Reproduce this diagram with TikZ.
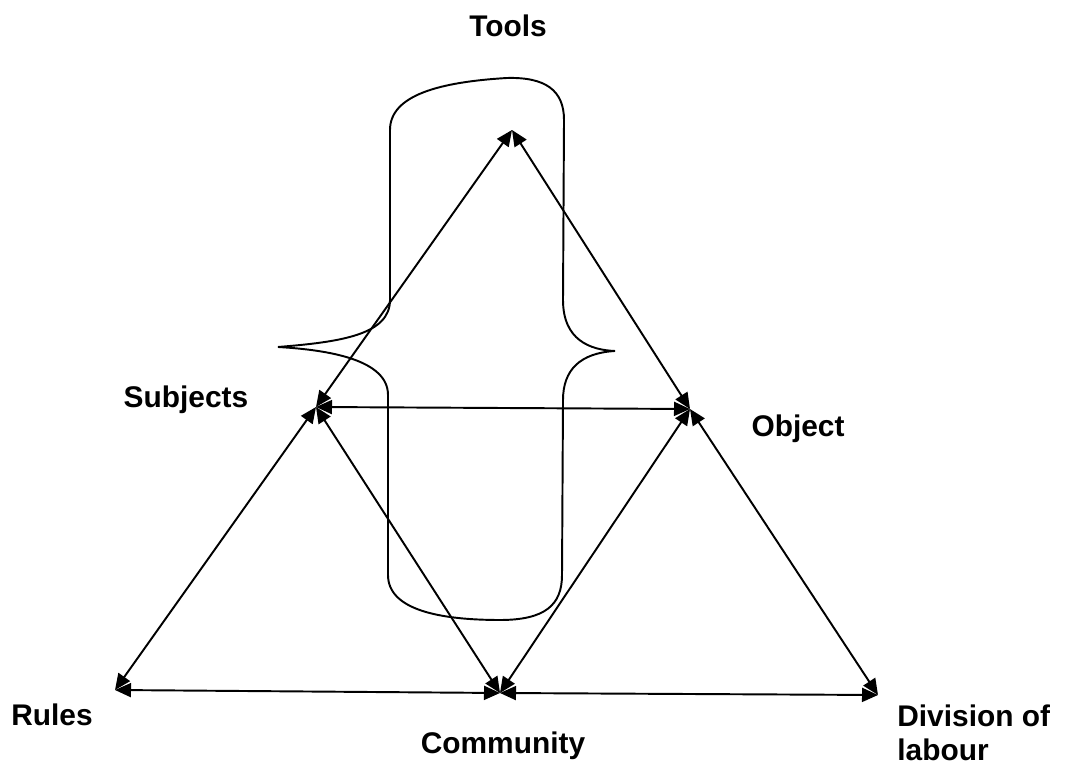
\documentclass[tikz,border=0pt]{standalone}
\usepackage{fontspec}
\setmainfont{Liberation Sans}
\usetikzlibrary{arrows.meta}

\begin{document}
\begin{tikzpicture}[
          vertex/.style={coordinate},
          cornertext/.style={font=\bfseries\fontsize{17}{19.9}\selectfont, inner sep=0pt},
          link/.style={{Triangle[length=0.32cm,width=0.28cm]}-{Triangle[length=0.32cm,width=0.28cm]}, line width=1.1pt},
          toolbrace/.style={line width=1.1pt}]

        \useasboundingbox (0,0) rectangle (21.34,15.36);

        \node[vertex] (tools)    at (10.24,12.76) {};
        \node[vertex] (subjects) at (6.32,7.22)   {};
        \node[vertex] (object)   at (13.80,7.18)  {};
        \node[vertex] (rules)    at (2.30,1.56)   {};
        \node[vertex] (comm)     at (10.00,1.50)  {};
        \node[vertex] (division) at (17.56,1.46)  {};

        \node[cornertext, anchor=base] (toolstext)    at (10.16,14.62) {Tools};
        \node[cornertext, anchor=base] (subjectstext) at (3.72,7.20)   {Subjects};
        \node[cornertext, anchor=base] (objecttext)   at (15.96,6.62)  {Object};
        \node[cornertext, anchor=base] (rulestext)    at (1.04,0.86)   {Rules};
        \node[cornertext, anchor=base] (commtext)     at (10.06,0.30)  {Community};
        \node[cornertext, anchor=north west, align=left] (divisiontext) at (17.94,1.28) {Division of\\labour};

        \draw[toolbrace] (7.80,9.36) -- (7.80,12.76)
              .. controls (7.80,13.46) and (8.80,13.72) .. (10.14,13.80)
              .. controls (10.90,13.82) and (11.28,13.56) .. (11.28,12.96)
              -- (11.26,9.36)
              .. controls (11.26,8.56) and (11.80,8.36) .. (12.30,8.34)
              .. controls (11.60,8.30) and (11.26,7.96) .. (11.26,7.36)
              -- (11.24,3.86)
              .. controls (11.24,3.26) and (10.90,2.96) .. (10.00,2.96)
              .. controls (8.80,2.96) and (7.76,3.16) .. (7.76,3.86)
              -- (7.76,7.46)
              .. controls (7.76,8.16) and (6.60,8.36) .. (5.56,8.42)
              .. controls (6.80,8.52) and (7.80,8.66) .. (7.80,9.36) -- cycle;

        \draw[link] (subjects) -- (tools);
        \draw[link] (object)   -- (tools);
        \draw[link] (subjects) -- (object);
        \draw[link] (rules)    -- (subjects);
        \draw[link] (comm)     -- (subjects);
        \draw[link] (comm)     -- (object);
        \draw[link] (division) -- (object);
        \draw[link] (rules)    -- (comm);
        \draw[link] (division) -- (comm);

      \end{tikzpicture}
\end{document}
